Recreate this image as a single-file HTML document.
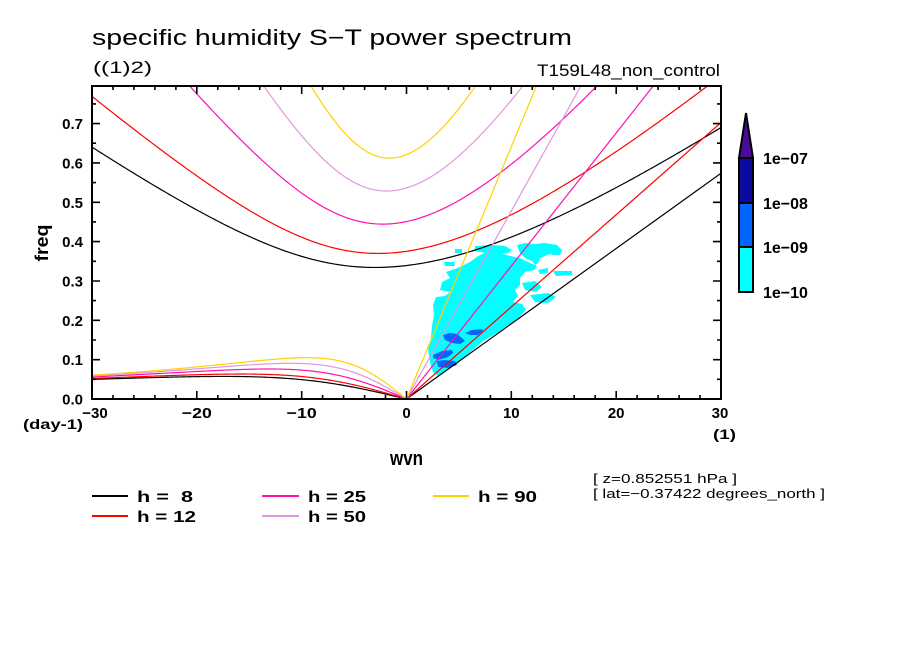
<!DOCTYPE html>
<html><head><meta charset="utf-8">
<style>html,body{margin:0;padding:0;background:#fff;}svg{display:block}</style>
</head><body>
<svg id="s" width="904" height="654" viewBox="0 0 904 654" xmlns="http://www.w3.org/2000/svg" font-family="'Liberation Sans', sans-serif">
<rect width="904" height="654" fill="#fff"/>
<defs><clipPath id="cp"><rect x="92" y="86" width="629" height="313"/></clipPath></defs>

<!-- filled contours -->
<g fill="#00ffff" clip-path="url(#cp)">
<polygon points="470,262 478,256 487,252 500,253 510,256 520,258 528,262 537,266 534,270 525,272 520,278 520,285 515,290 518,296 513,302 522,304 526,310 518,318 507,326 497,333 483,341 475,348 467,355 458,363 448,370 438,376 433,372 430,362 428,350 431,338 432,326 434,315 433,305 436,297 445,296 450,292 440,290 442,282 450,278 446,272 455,269 462,266"/>
<polygon points="517,245 525,243 535,244 545,243 557,245 562,250 560,255 553,255 549,254 545,256 540,258 538,263 535,265 532,261 525,258 520,253"/>
<polygon points="475,246 492,245 505,246 512,250 508,253 495,254 485,253 475,251"/>
<polygon points="538,270 548,268 548,273 540,274"/>
<polygon points="553,271 572,271 572,275 556,276"/>
<polygon points="522,283 535,281 542,287 536,292 525,290"/>
<polygon points="530,295 548,293 556,297 548,303 535,302"/>
<polygon points="455,249 462,249 462,253 455,253"/>
<polygon points="444,262 454,262 455,266 445,266"/>
</g>
<g fill="#0066ff">
<polygon points="443,335 450,333 457,334 462,338 465,341 460,344 452,343 445,340"/>
<polygon points="465,333 472,330 482,329 483,331 478,335 470,335"/>
<polygon points="433,355 442,351 452,350 453,353 448,357 438,360 433,358"/>
<polygon points="437,361 445,360 455,361 457,365 448,368 438,367"/>
</g>

<g id="curves" clip-path="url(#cp)" fill="none" stroke-width="1.2"></g>

<!-- frame -->
<rect x="92" y="86" width="629" height="313" fill="none" stroke="#000" stroke-width="2"/>
<!-- ticks -->
<g stroke="#000" stroke-width="1.6" fill="none">
<path d="M196.8 399V391M301.7 399V391M406.5 399V391M511.3 399V391M616.2 399V391
M196.8 86V94M301.7 86V94M406.5 86V94M511.3 86V94M616.2 86V94
M113 399V395M133.9 399V395M154.9 399V395M175.9 399V395M217.8 399V395M238.8 399V395M259.7 399V395M280.7 399V395M322.6 399V395M343.6 399V395M364.6 399V395M385.5 399V395M427.5 399V395M448.4 399V395M469.4 399V395M490.4 399V395M532.3 399V395M553.3 399V395M574.2 399V395M595.2 399V395M637.1 399V395M658.1 399V395M679.1 399V395M700 399V395
M113 86V90M133.9 86V90M154.9 86V90M175.9 86V90M217.8 86V90M238.8 86V90M259.7 86V90M280.7 86V90M322.6 86V90M343.6 86V90M364.6 86V90M385.5 86V90M427.5 86V90M448.4 86V90M469.4 86V90M490.4 86V90M532.3 86V90M553.3 86V90M574.2 86V90M595.2 86V90M637.1 86V90M658.1 86V90M679.1 86V90M700 86V90
M92 359.65H100M92 320.3H100M92 281H100M92 241.6H100M92 202.3H100M92 162.9H100M92 123.55H100
M721 359.65H713M721 320.3H713M721 281H713M721 241.6H713M721 202.3H713M721 162.9H713M721 123.55H713
M92 379.3H96M92 340H96M92 300.6H96M92 261.3H96M92 221.9H96M92 182.6H96M92 143.2H96M92 103.9H96
M721 379.3H717M721 340H717M721 300.6H717M721 261.3H717M721 221.9H717M721 182.6H717M721 143.2H717M721 103.9H717"/>
</g>

<!-- titles -->
<text x="92" y="45" font-size="22" textLength="480" lengthAdjust="spacingAndGlyphs">specific humidity S−T power spectrum</text>
<text x="93" y="73" font-size="17" textLength="59" lengthAdjust="spacingAndGlyphs">((1)2)</text>
<text x="537" y="76" font-size="17" textLength="183" lengthAdjust="spacingAndGlyphs">T159L48_non_control</text>

<!-- y tick labels -->
<g font-size="15" font-weight="bold" text-anchor="end">
<text x="83" y="404.5">0.0</text>
<text x="83" y="365">0.1</text>
<text x="83" y="325.8">0.2</text>
<text x="83" y="286.5">0.3</text>
<text x="83" y="247.1">0.4</text>
<text x="83" y="207.8">0.5</text>
<text x="83" y="168.4">0.6</text>
<text x="83" y="129">0.7</text>
</g>
<!-- x tick labels -->
<g font-size="15" font-weight="bold" text-anchor="middle">
<text x="95" y="418">−30</text>
<text x="196.8" y="418" textLength="30" lengthAdjust="spacingAndGlyphs">−20</text>
<text x="301.7" y="418" textLength="30" lengthAdjust="spacingAndGlyphs">−10</text>
<text x="406.5" y="418">0</text>
<text x="511.3" y="418">10</text>
<text x="616.2" y="418">20</text>
<text x="720" y="418">30</text>
</g>
<text x="23" y="429" font-size="14" font-weight="bold" textLength="60" lengthAdjust="spacingAndGlyphs">(day-1)</text>
<text x="713" y="439" font-size="14" font-weight="bold" textLength="23" lengthAdjust="spacingAndGlyphs">(1)</text>
<text transform="translate(48,243) rotate(-90)" text-anchor="middle" font-size="18" font-weight="bold" textLength="37" lengthAdjust="spacingAndGlyphs">freq</text>
<text x="390" y="465" font-size="20" font-weight="bold" textLength="33" lengthAdjust="spacingAndGlyphs">wvn</text>

<!-- colorbar -->
<g stroke="#000" stroke-width="2">
<rect x="739" y="247" width="14" height="45" fill="#00ffff"/>
<rect x="739" y="203" width="14" height="44" fill="#0066ff"/>
<rect x="739" y="158" width="14" height="45" fill="#0a0aa0"/>
<polygon points="739,158 753,158 746,113" fill="#4b0a9b"/>
</g>
<g font-size="16" font-weight="bold">
<text x="763" y="164">1e−07</text>
<text x="763" y="209">1e−08</text>
<text x="763" y="253">1e−09</text>
<text x="763" y="298">1e−10</text>
</g>

<!-- legend -->
<g stroke-width="2">
<line x1="92" y1="496" x2="128" y2="496" stroke="#000"/>
<line x1="92" y1="516" x2="128" y2="516" stroke="#ff0000"/>
<line x1="262" y1="496" x2="299" y2="496" stroke="#ff10b0"/>
<line x1="262" y1="516" x2="299" y2="516" stroke="#dd99dd"/>
<line x1="433" y1="496" x2="469" y2="496" stroke="#ffd200"/>
</g>
<g font-size="16" font-weight="bold">
<text x="137" y="502" textLength="56" lengthAdjust="spacingAndGlyphs" xml:space="preserve">h =  8</text>
<text x="137" y="522" textLength="59" lengthAdjust="spacingAndGlyphs">h = 12</text>
<text x="308" y="502" textLength="58" lengthAdjust="spacingAndGlyphs">h = 25</text>
<text x="308" y="522" textLength="58" lengthAdjust="spacingAndGlyphs">h = 50</text>
<text x="478" y="502" textLength="59" lengthAdjust="spacingAndGlyphs">h = 90</text>
</g>

<!-- info -->
<text x="593" y="483" font-size="13" textLength="144" lengthAdjust="spacingAndGlyphs">[ z=0.852551 hPa ]</text>
<text x="593" y="498" font-size="13" textLength="232" lengthAdjust="spacingAndGlyphs">[ lat=−0.37422 degrees_north ]</text>
</svg>
<script>
(function(){
var Om=7.292e-5,a=6.371e6,g=9.81,beta=2*Om/a;
function X(s){return 406.5+s*10.4833;}
function Y(f){return 399-f*393.5;}
function F(w){return w*86400/(2*Math.PI);}
function roots(c,s){
  var k=s/a, A=3*beta*c+c*c*k*k, B=beta*c*c*k;
  var p=-A,q=-B, m=2*Math.sqrt(A/3);
  var arg=(3*q/(2*p))*Math.sqrt(-3/p); arg=Math.max(-1,Math.min(1,arg));
  var th=Math.acos(arg)/3, r=[];
  for(var j=0;j<3;j++) r.push(m*Math.cos(th-2*Math.PI*j/3));
  r.sort(function(u,v){return u-v;});
  return r;
}
var hs=[[8,'#000000'],[12,'#ff0000'],[25,'#ff10b0'],[50,'#dd99dd'],[90,'#ffd200']];
var G=document.getElementById('curves'), NS='http://www.w3.org/2000/svg';
function add(d,col){var p=document.createElementNS(NS,'path');p.setAttribute('d',d);p.setAttribute('stroke',col);G.appendChild(p);}
hs.forEach(function(h){
  var c=Math.sqrt(g*h[0]), col=h[1], d, s;
  // Kelvin
  var kf=F(c*30/a);
  add('M'+X(0)+' '+Y(0)+'L'+X(30)+' '+Y(kf).toFixed(2),col);
  // IG n=1
  d='';
  for(s=-31;s<=31.001;s+=0.2){var r=roots(c,s);d+=(d?'L':'M')+X(s).toFixed(2)+' '+Y(F(r[2])).toFixed(2);}
  add(d,col);
  // Rossby n=1
  d='';
  for(s=-31;s<=0.0001;s+=0.2){var r2=roots(c,s);var w=Math.abs(s)<1e-9?0:r2[1];d+=(d?'L':'M')+X(s).toFixed(2)+' '+Y(F(w)).toFixed(2);}
  add(d,col);
});
})();
</script>
</body></html>
